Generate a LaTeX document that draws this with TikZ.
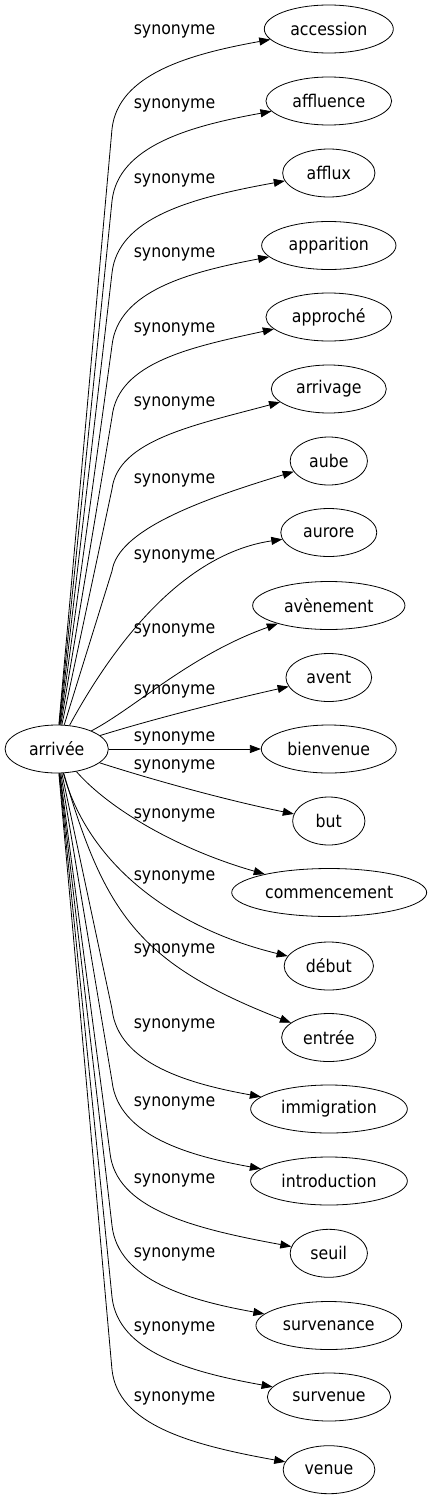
\documentclass[tikz,border=0pt]{standalone}
\usepackage{fontspec}
\setmainfont{DejaVu Sans Condensed}
\usetikzlibrary{arrows.meta}
\usetikzlibrary{shapes.geometric}
\pgfdeclarelayer{edgelayer}
\pgfdeclarelayer{nodelayer}
\pgfsetlayers{edgelayer,nodelayer,main}
\tikzstyle{word}=[ellipse,fill=white,draw=black,line width=0.8pt,inner sep=0pt,minimum height=48pt,font=\fontsize{17.5}{20}\selectfont]
\tikzstyle{relation}=[inner sep=0pt,font=\fontsize{17.5}{20}\selectfont]
\tikzstyle{synonym}=[-{Triangle[length=11pt,width=8pt]},draw=black,line width=0.8pt]

\begin{document}
\begin{tikzpicture}[x=1pt,y=-1pt]
	\useasboundingbox (0,0) rectangle (431,1499);
	\begin{pgfonlayer}{nodelayer}
		\node [style=word, minimum width=103.3pt] (0) at (56.7, 749) {arrivée};
		\node [style=word, minimum width=129pt] (1) at (328.8, 29) {accession};
		\node [style=word, minimum width=125.7pt] (2) at (328.8, 101) {affluence};
		\node [style=word, minimum width=92.3pt] (3) at (328.8, 173) {afflux};
		\node [style=word, minimum width=134.3pt] (4) at (328.8, 245.5) {apparition};
		\node [style=word, minimum width=125.7pt] (5) at (328.8, 317) {approché};
		\node [style=word, minimum width=115pt] (6) at (328.8, 389) {arrivage};
		\node [style=word, minimum width=77.3pt] (7) at (328.8, 461) {aube};
		\node [style=word, minimum width=96pt] (8) at (328.8, 532.5) {aurore};
		\node [style=word, minimum width=152.3pt] (9) at (328.8, 605.5) {avènement};
		\node [style=word, minimum width=85.7pt] (10) at (328.8, 677.5) {avent};
		\node [style=word, minimum width=135pt] (11) at (328.8, 749) {bienvenue};
		\node [style=word, minimum width=72.3pt] (12) at (328.8, 821) {but};
		\node [style=word, minimum width=195pt] (13) at (329.2, 892.5) {commencement};
		\node [style=word, minimum width=89.3pt] (14) at (328.8, 966) {début};
		\node [style=word, minimum width=94.3pt] (15) at (328.8, 1037.5) {entrée};
		\node [style=word, minimum width=156.7pt] (16) at (329, 1109) {immigration};
		\node [style=word, minimum width=156.7pt] (17) at (329, 1181) {introduction};
		\node [style=word, minimum width=77.3pt] (18) at (328.8, 1253.3) {seuil};
		\node [style=word, minimum width=145.7pt] (19) at (328.8, 1325.5) {survenance};
		\node [style=word, minimum width=123.3pt] (20) at (329, 1397) {survenue};
		\node [style=word, minimum width=91.7pt] (21) at (329, 1469.7) {venue};
	\end{pgfonlayer}
	\begin{pgfonlayer}{edgelayer}
		\draw [style=synonym] (0) -- (112, 129) .. controls (118, 74) and (190, 54) .. (1) node [style=relation] at (174.5, 31.5) {synonyme};
		\draw [style=synonym] (0) -- (112, 201) .. controls (118, 146) and (190, 126) .. (2) node [style=relation] at (174.5, 105) {synonyme};
		\draw [style=synonym] (0) -- (112, 273) .. controls (118, 218) and (190, 198) .. (3) node [style=relation] at (174.5, 180) {synonyme};
		\draw [style=synonym] (0) -- (112, 345.5) .. controls (118, 290.5) and (190, 272) .. (4) node [style=relation] at (174.5, 254) {synonyme};
		\draw [style=synonym] (0) -- (112, 417) .. controls (118, 362) and (192, 347) .. (5) node [style=relation] at (174.5, 329.5) {synonyme};
		\draw [style=synonym] (0) -- (112, 489) .. controls (118, 440) and (195, 425) .. (6) node [style=relation] at (174.5, 403) {synonyme};
		\draw [style=synonym] (0) -- (112, 571) .. controls (118, 530) and (200, 500) .. (7) node [style=relation] at (174.5, 480) {synonyme};
		\draw [style=synonym] (0) .. controls (105, 660) and (175, 555) .. (8) node [style=relation] at (174.5, 556) {synonyme};
		\draw [style=synonym] (0) .. controls (135, 708) and (190, 655) .. (9) node [style=relation] at (174.5, 630) {synonyme};
		\draw [style=synonym] (0) .. controls (150, 720) and (220, 702) .. (10) node [style=relation] at (174.5, 691.5) {synonyme};
		\draw [style=synonym] (0) -- (11) node [style=relation] at (174.5, 738) {synonyme};
		\draw [style=synonym] (0) .. controls (150, 779) and (225, 800) .. (12) node [style=relation] at (174.5, 766) {synonyme};
		\draw [style=synonym] (0) .. controls (110, 810) and (180, 850) .. (13) node [style=relation] at (174.5, 815) {synonyme};
		\draw [style=synonym] (0) .. controls (90, 870) and (180, 930) .. (14) node [style=relation] at (174.5, 877) {synonyme};
		\draw [style=synonym] (0) .. controls (105, 915) and (140, 964) .. (15) node [style=relation] at (174.5, 950) {synonyme};
		\draw [style=synonym] (0) -- (112, 1009) .. controls (118, 1064) and (190, 1084) .. (16) node [style=relation] at (174.5, 1025) {synonyme};
		\draw [style=synonym] (0) -- (112, 1081) .. controls (118, 1136) and (190, 1156) .. (17) node [style=relation] at (174.5, 1103) {synonyme};
		\draw [style=synonym] (0) -- (110, 1153) .. controls (116, 1208) and (190, 1228) .. (18) node [style=relation] at (174.5, 1180.5) {synonyme};
		\draw [style=synonym] (0) -- (112, 1225.5) .. controls (118, 1280.5) and (190, 1300.5) .. (19) node [style=relation] at (174.5, 1254.5) {synonyme};
		\draw [style=synonym] (0) -- (112, 1297) .. controls (118, 1352) and (190, 1372) .. (20) node [style=relation] at (174.5, 1328) {synonyme};
		\draw [style=synonym] (0) -- (112, 1369.7) .. controls (118, 1424.7) and (190, 1444.7) .. (21) node [style=relation] at (174.5, 1398) {synonyme};
	\end{pgfonlayer}
\end{tikzpicture}
\end{document}
